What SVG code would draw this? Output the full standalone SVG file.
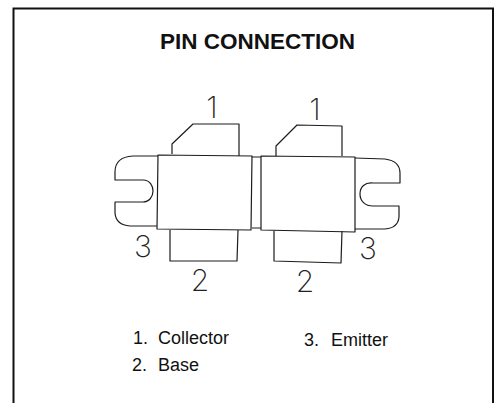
<svg xmlns="http://www.w3.org/2000/svg" width="503" height="403" viewBox="0 0 503 403">
<style>
.o{fill:none;stroke:#1c1c1c;stroke-width:1.2;stroke-linejoin:round}
.t{font-family:"Liberation Sans",Arial,sans-serif;fill:#111}
.l{font-size:18px}
.n{font-family:Inter,"Liberation Sans",sans-serif;font-weight:200;font-size:30px;fill:#222;text-anchor:middle}
</style>
<rect width="503" height="403" fill="#fff"/>
<path id="frame" d="M13.500 403V8.500H493V403" fill="none" stroke="#111" stroke-width="2"/>
<text id="title" class="t" x="160" y="49" font-size="22.500" font-weight="700">PIN CONNECTION</text>
<g id="left-device">
<path class="o" d="M158 155L252 156L251 230L157 229Z"/>
<path class="o" d="M172 154V144L193 124L239 124V156"/>
<path class="o" d="M170 230V261H237L238 230"/>
<path class="o" d="M158 156H133Q115 157 115 172V180H143C150 180 153 186 153 191C153 197 149 202 143 202H115V213Q116 225 130 226H157"/>
<text class="n" x="212" y="118">1</text>
<text class="n" x="200" y="291">2</text>
<text class="n" x="143" y="257">3</text>
</g>
<g id="right-device">
<path class="o" d="M261 156L355 157L355 232L261 230Z"/>
<path class="o" d="M276 156V146L297 125L342 126V156"/>
<path class="o" d="M274 231V261L341 263L342 231"/>
<path class="o" d="M355 158L385 159Q400 161 400 173V183H373C365 182 360 187 360 194C360 201 365 206 373 206H399V217Q398 228 385 229H355"/>
<text class="n" x="315" y="120">1</text>
<text class="n" x="305" y="292">2</text>
<text class="n" x="368" y="259">3</text>
</g>
<g id="connectors">
<path class="o" d="M252 157H261M252 228H261"/>
</g>
<g id="legend">
<text class="t l" x="133" y="344">1.</text>
<text class="t l" x="158" y="344">Collector</text>
<text class="t l" x="132" y="371">2.</text>
<text class="t l" x="158" y="371">Base</text>
<text class="t l" x="304" y="346">3.</text>
<text class="t l" x="331" y="346">Emitter</text>
</g>
</svg>
